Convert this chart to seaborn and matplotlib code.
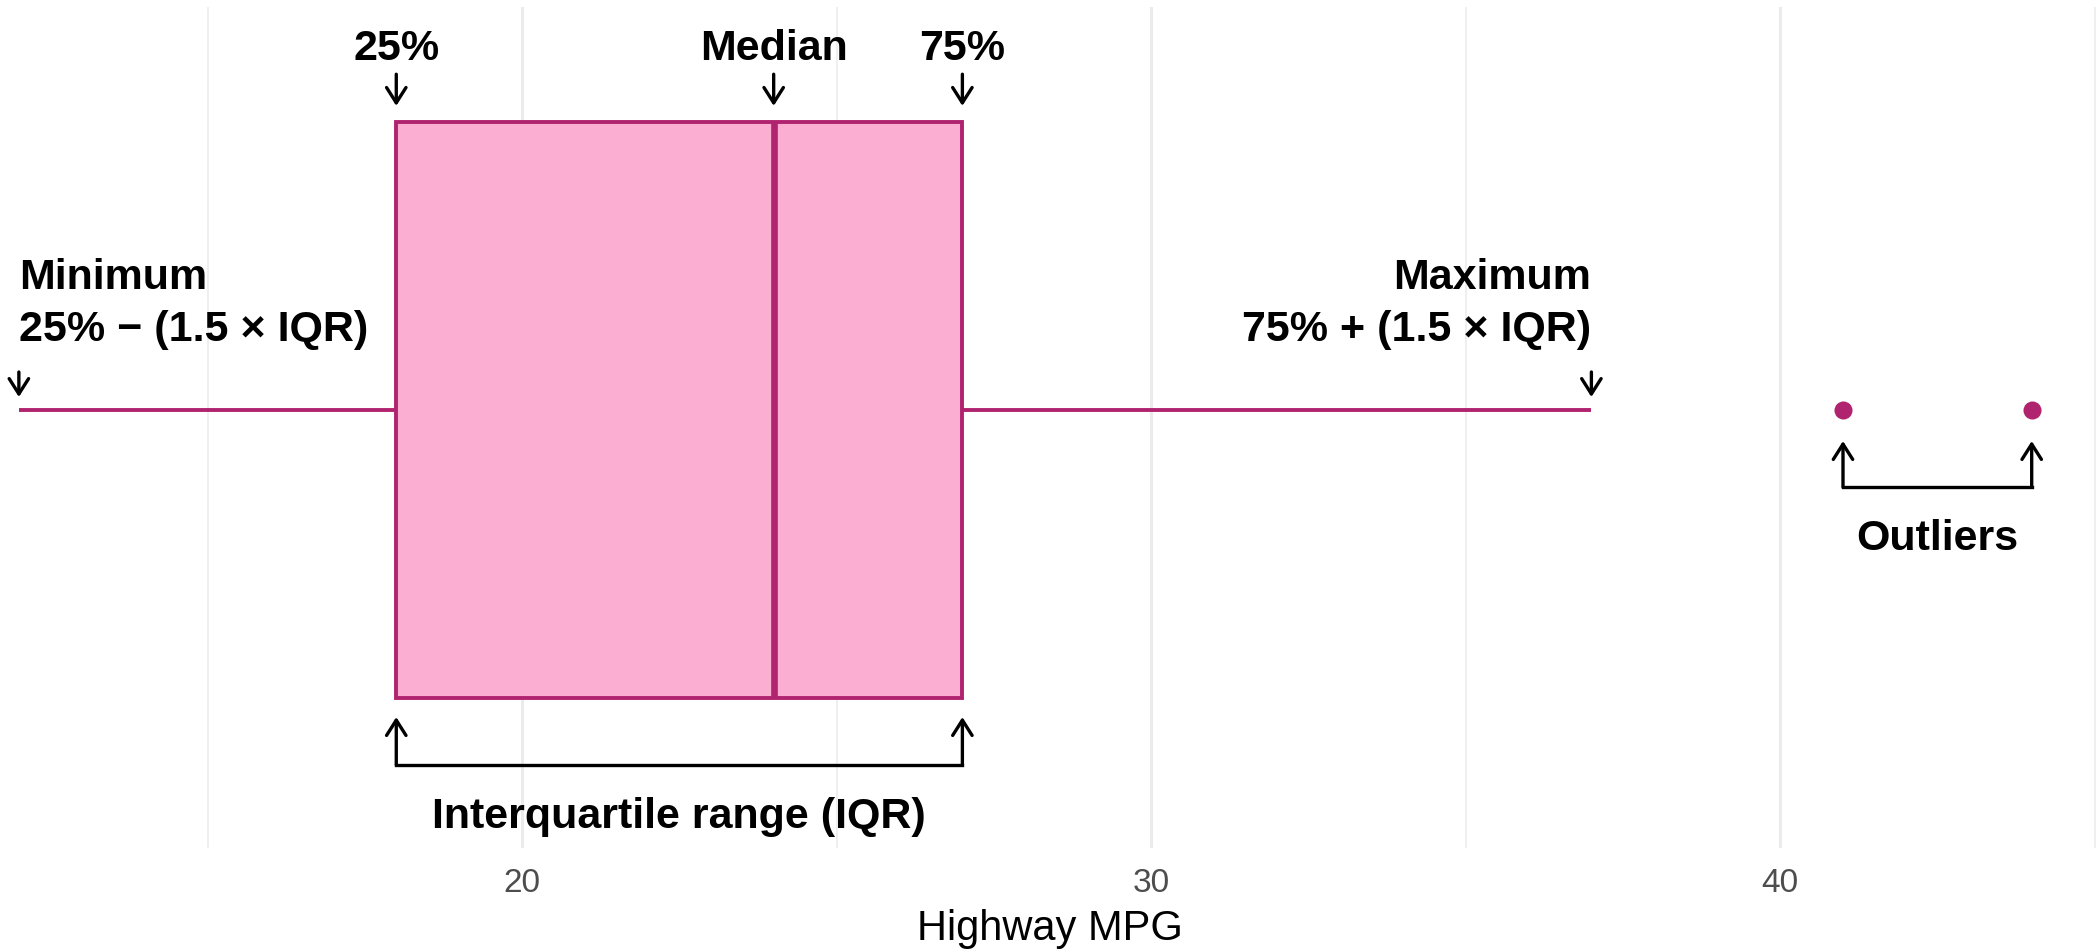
import matplotlib
matplotlib.use('Agg')
import matplotlib.pyplot as plt
import seaborn as sns

# Highway MPG sample whose box summary matches the chart
hwy = [12, 17, 18, 18, 20, 24, 24, 26, 27, 27, 37, 41, 44]
q1, median, q3 = 18, 24, 27
whisker_lo, whisker_hi = 12, 37
outliers = [41, 44]
major_ticks = [20, 30, 40]
minor_ticks = [15, 25, 35, 45]

box_fill = '#FBAED2'
box_edge = '#B0246F'

sns.set_theme(style='white')
plt.rcParams['font.family'] = ['Liberation Sans', 'DejaVu Sans']

fig = plt.figure(figsize=(20.99, 9.53), dpi=100)
ax = fig.add_axes([0, 0.1091, 1, 0.8825])

sns.boxplot(x=hwy, ax=ax, width=1.0, color=box_fill, linecolor=box_edge,
            saturation=1, linewidth=2.8, showcaps=False, whis=1.5,
            medianprops=dict(linewidth=4.8, color=box_edge))

# filled round outlier points
for line in ax.lines:
    if line.get_marker() not in ('None', '', None):
        line.set_marker('o')
        line.set_markersize(13)
        line.set_markeredgewidth(0)
        line.set_markerfacecolor(box_edge)

ax.set_xlim(11.7, 45.07)
ax.set_ylim(-0.7604, 0.6997)
ax.set_xticks(major_ticks)
ax.set_xticks(minor_ticks, minor=True)
ax.set_yticks([])
ax.grid(which='major', axis='x', color='#EBEBEB', lw=2.2)
ax.grid(which='minor', axis='x', color='#EBEBEB', lw=1.1)
ax.grid(axis='y', visible=False)
ax.set_axisbelow(True)
for s in ax.spines.values():
    s.set_visible(False)
ax.tick_params(axis='x', which='both', length=0, labelsize=24,
               labelcolor='#4D4D4D', pad=14)
ax.set_xlabel('Highway MPG', fontsize=30, color='black', labelpad=7)

lbl = dict(fontsize=31, fontweight='bold', color='black', va='baseline')
head = dict(arrowstyle='->,head_length=0.55,head_width=0.35', lw=2.4,
            color='black', shrinkA=0, shrinkB=0, mutation_scale=20)


def arrow(x, y_from, y_to):
    ax.annotate('', xy=(x, y_to), xytext=(x, y_from), arrowprops=head)


# quartile labels above the box
for x, name in [(q1, '25%'), (median, 'Median'), (q3, '75%')]:
    ax.text(x, 0.609, name, ha='center', **lbl)
    arrow(x, 0.583, 0.528)

# whisker ends
ax.text(whisker_lo, 0.212, 'Minimum', ha='left', **lbl)
ax.text(whisker_lo, 0.1215, '25% \u2212 (1.5 \u00d7 IQR)', ha='left', **lbl)
arrow(whisker_lo, 0.066, 0.0226)
ax.text(whisker_hi, 0.212, 'Maximum', ha='right', **lbl)
ax.text(whisker_hi, 0.1215, '75% + (1.5 \u00d7 IQR)', ha='right', **lbl)
arrow(whisker_hi, 0.066, 0.0226)

# outliers bracket
ax.plot(outliers, [-0.1337, -0.1337], color='black', lw=2.4, solid_capstyle='projecting')
for x in outliers:
    arrow(x, -0.1337, -0.0538)
ax.text(sum(outliers) / 2, -0.241, 'Outliers', ha='center', **lbl)

# IQR bracket
ax.plot([q1, q3], [-0.616, -0.616], color='black', lw=2.4, solid_capstyle='projecting')
for x in [q1, q3]:
    arrow(x, -0.616, -0.533)
ax.text((q1 + q3) / 2, -0.724, 'Interquartile range (IQR)', ha='center', **lbl)

fig.savefig('out.png', dpi=100)
